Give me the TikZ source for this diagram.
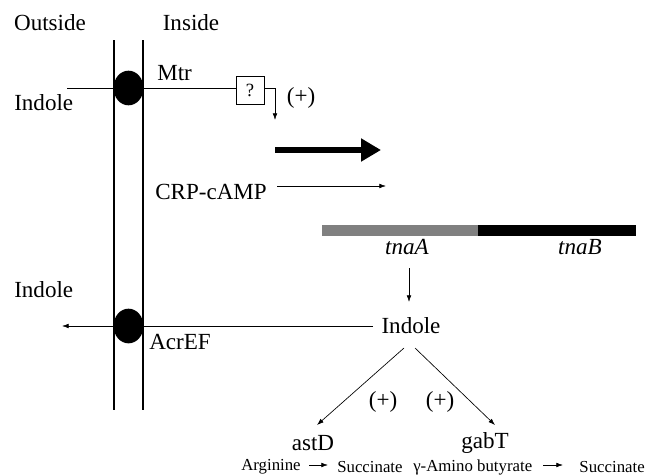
\documentclass[tikz,border=0pt]{standalone}
\usepackage{fontspec}
\setmainfont{Liberation Serif}
\usetikzlibrary{shapes.geometric,arrows.meta}
\begin{document}
\begin{tikzpicture}[x=0.75pt,y=-0.75pt,
  lbl/.style={font=\fontsize{17.3}{20}\selectfont, inner sep=0pt},
  small/.style={font=\fontsize{12.6}{15}\selectfont, inner sep=0pt},
  pore/.style={ellipse, fill=black, minimum width=22.5pt, minimum height=26pt, inner sep=0pt},
  memb/.style={line width=1.6pt},
  conn/.style={line width=0.5pt},
  arr/.style={conn, -{Latex[length=5pt,width=3.5pt]}}]
\useasboundingbox (0,0) rectangle (645,475);
% labels top
\node[lbl] (outside) at (50,23) {Outside};
\node[lbl] (inside) at (191,23) {Inside};
% membrane
\coordinate (m1t) at (114,40); \coordinate (m1b) at (114,410);
\coordinate (m2t) at (143,40); \coordinate (m2b) at (143,410);
\draw[memb] (m1t) -- (m1b);
\draw[memb] (m2t) -- (m2b);
% Mtr
\node[pore] (mtr) at (128.5,88) {};
\node[lbl, anchor=west] (mtrl) at (157,73) {Mtr};
\node[lbl, anchor=west] (indL1) at (14,103) {Indole};
\coordinate (inL) at (67,88);
\node[draw, conn, minimum width=21pt, minimum height=21pt, inner sep=0pt, font=\fontsize{14}{16}\selectfont] (q) at (250,90) {?};
\draw[conn] (inL) -- (mtr.west);
\draw[conn] (mtr.east) -- (mtr.east -| q.west);
\coordinate (qa) at (275,120);
\draw[arr] (q.east |- mtr.east) -| (qa);
\node[lbl] (plus1) at (301,98) {(+)};
% thick arrow
\coordinate (ta1) at (275,150); \coordinate (ta2) at (381,150);
\draw[line width=4.5pt, -{Triangle[length=15pt,width=16.5pt]}] (ta1) -- (ta2);
% CRP
\node[lbl, anchor=west] (crp) at (155,192) {CRP-cAMP};
\coordinate (crps) at (277,186);
\coordinate (crpa) at (386,186);
\draw[arr] (crps) -- (crpa);
% gene bar
\fill[black!50] (322,225) rectangle (478,236);
\fill[black] (478,225) rectangle (636,236);
\node[lbl, font=\fontsize{17.3}{20}\selectfont\itshape] (tnaA) at (407,247) {tnaA};
\node[lbl, font=\fontsize{17.3}{20}\selectfont\itshape] (tnaB) at (580,247) {tnaB};
% indole center
\node[lbl] (ind2) at (411,326) {Indole};
\coordinate (tA) at (409,268);
\coordinate (tB) at (409,302);
\draw[arr] (tA) -- (tB);
% efflux
\node[pore] (acr) at (128.5,326) {};
\node[lbl, anchor=west] (acrl) at (149,342) {AcrEF};
\node[lbl, anchor=west] (indL2) at (14,290) {Indole};
\coordinate (outA) at (62,326);
\coordinate (ins) at (373,326);
\draw[arr] (ins) -- (outA);
% branches
\node[lbl] (astD) at (313,443) {astD};
\node[lbl] (gabT) at (485,443) {gabT};
\coordinate (b1) at (404,348); \coordinate (b2) at (415,348);
\coordinate (e1) at (317,425); \coordinate (e2) at (495,425);
\draw[arr] (b1) -- (e1);
\draw[arr] (b2) -- (e2);
\node[lbl] (plus2) at (383,402) {(+)};
\node[lbl] (plus3) at (440,402) {(+)};
% bottom reactions
\node[small, anchor=west] (arg) at (241,467) {Arginine};
\node[small, anchor=west] (suc1) at (337,467) {Succinate};
\coordinate (r1s) at (309,465); \coordinate (r1e) at (328,465);
\draw[arr] (r1s) -- (r1e);
\node[small, anchor=west] (gab) at (413,467) {γ-Amino butyrate};
\node[small, anchor=east] (suc2) at (645,467) {Succinate};
\coordinate (r2s) at (543,465); \coordinate (r2e) at (563,465);
\draw[arr] (r2s) -- (r2e);
\end{tikzpicture}
\end{document}
